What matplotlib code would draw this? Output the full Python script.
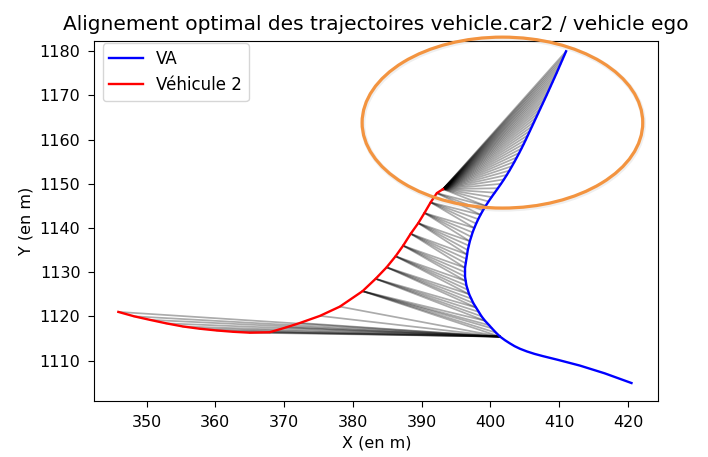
import matplotlib
matplotlib.use("Agg")
import matplotlib.pyplot as plt
from matplotlib.patches import Ellipse
import numpy as np

# Trajectoire du VA (vehicle ego)
blue_x = [420.5, 416.6, 413.0, 409.8, 407.6, 406.4, 405.3, 404.3, 403.5, 402.8,
          402.1, 401.4, 400.8, 400.2,
          399.8, 399.2, 398.7, 398.3, 397.9, 397.5, 397.2, 396.9, 396.7, 396.5,
          396.4, 396.3, 396.3, 396.3, 396.4, 396.5, 396.6, 396.7, 396.85, 397.0,
          397.2, 397.4, 397.65, 397.92, 398.22, 398.55, 398.91, 399.3, 399.72,
          400.16, 400.62, 401.08, 401.53, 401.96, 402.37, 402.76, 403.13, 403.49,
          403.84, 404.18, 404.51, 404.83, 405.14, 405.44, 405.74, 406.04, 406.34,
          406.64, 406.94, 407.24, 407.54, 407.84, 408.14, 408.43, 408.72, 409.01,
          409.3, 409.59, 409.87, 410.15, 410.43, 410.71, 410.99]
blue_y = [1104.9, 1107.1, 1108.85, 1110.15, 1111.0, 1111.5, 1112.05, 1112.65,
          1113.25, 1113.9, 1114.6, 1115.4, 1116.3, 1117.3,
          1118, 1119, 1120, 1121, 1122, 1123, 1124, 1125, 1126, 1127, 1128, 1129,
          1130, 1131, 1132, 1133, 1134, 1135, 1136, 1137, 1138, 1139, 1140, 1141,
          1142, 1143, 1144, 1145, 1146, 1147, 1148, 1149, 1150, 1151, 1152, 1153,
          1154, 1155, 1156, 1157, 1158, 1159, 1160, 1161, 1162, 1163, 1164, 1165,
          1166, 1167, 1168, 1169, 1170, 1171, 1172, 1173, 1174, 1175, 1176, 1177,
          1178, 1179, 1180]

# Trajectoire du vehicule 2
red_x = [345.9, 348.2, 350.5, 352.9, 355.3, 357.7, 360.2, 362.6, 365.0, 367.9,
         370.3, 372.3, 375.2, 378.1,
         381.4, 383.3, 384.9, 386.2, 387.3, 388.4, 389.5, 390.4, 391.3, 392.2,
         393.1]
red_y = [1121.0, 1120.0, 1119.2, 1118.4, 1117.7, 1117.2, 1116.8, 1116.5, 1116.3,
         1116.4, 1117.5, 1118.5, 1120.1, 1122.2,
         1125.7, 1128.5, 1131.1, 1133.6, 1136.0, 1138.7, 1141.1, 1143.4, 1145.8,
         1147.9, 1148.8]

# chemin d'alignement : pour chaque point rouge, premier et dernier indice bleu apparie
match_lo = [11, 11, 11, 11, 11, 11, 11, 11, 11, 11, 11, 11, 11, 11,
            11, 15, 18, 21, 24, 27, 30, 33, 36, 39, 41]
match_hi = [11, 11, 11, 11, 11, 11, 11, 11, 11, 11, 11, 11, 11, 11,
            15, 18, 21, 24, 27, 30, 33, 36, 39, 41, 76]

fig, ax = plt.subplots(figsize=(7.08, 4.57), dpi=100)
fig.subplots_adjust(left=0.1332, right=0.9298, bottom=0.1232, top=0.9109)

for j in range(len(red_x)):
    for i in range(match_lo[j], match_hi[j] + 1):
        ax.plot([blue_x[i], red_x[j]], [blue_y[i], red_y[j]],
                color='black', lw=1.25, alpha=0.33)

ax.plot(blue_x, blue_y, color='blue', lw=1.7, label='VA')
ax.plot(red_x, red_y, color='red', lw=1.7, label='Véhicule 2')

ax.set_xlim(342.4, 424.4)
ax.set_ylim(1100.9, 1182.4)
ax.set_xticks(np.arange(350, 421, 10))
ax.set_yticks(np.arange(1110, 1181, 10))
ax.tick_params(labelsize=11.5, length=4.5, pad=5.5)
ax.set_xlabel('X (en m)', fontsize=11.5)
ax.set_ylabel('Y (en m)', fontsize=11.5)
ax.set_title('Alignement optimal des trajectoires vehicle.car2 / vehicle ego',
             fontsize=14.5, pad=8)
ax.legend(loc='upper left', bbox_to_anchor=(0.0149, 0.9928), borderaxespad=0,
          fontsize=12)

# annotation : ellipse orange (avec leger ombrage)
ax.add_patch(Ellipse((401.85, 1163.6), 40.8, 38.7, fill=False, lw=3.5,
                     edgecolor='gray', alpha=0.12, clip_on=False, zorder=4))
ax.add_patch(Ellipse((401.74, 1163.86), 40.8, 38.7, fill=False, lw=2.3,
                     edgecolor='#F39440', clip_on=False, zorder=5))

fig.savefig('out.png', dpi=100)
